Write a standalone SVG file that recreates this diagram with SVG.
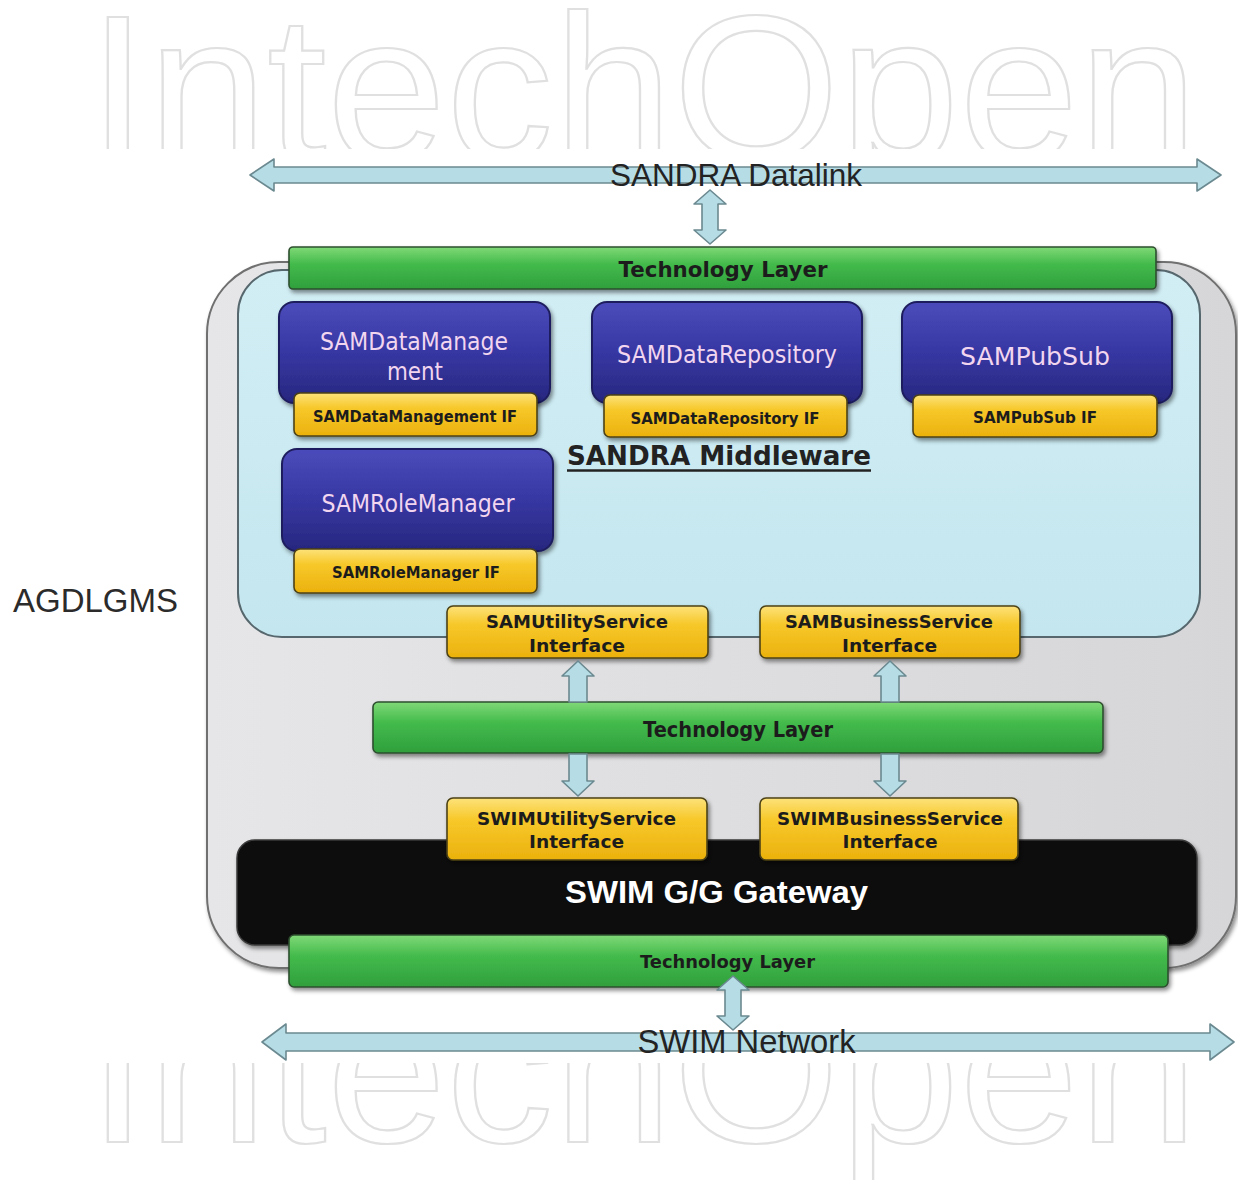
<svg xmlns="http://www.w3.org/2000/svg" width="1238" height="1180" viewBox="0 0 1238 1180">
<defs>
<style>
.wm{font-family:"Liberation Sans",Arial,sans-serif;font-size:207px;fill:none;stroke:#e0e0e0;stroke-width:2.2}
.blk{font-family:"DejaVu Sans","Liberation Sans",sans-serif;font-size:24px;fill:#f2d6ef;text-anchor:middle}
.ifl{font-family:"DejaVu Sans","Liberation Sans",sans-serif;font-weight:bold;font-size:15px;fill:#1c1c1c;text-anchor:middle}
.itf{font-family:"DejaVu Sans","Liberation Sans",sans-serif;font-weight:bold;font-size:18px;fill:#1c1c1c;text-anchor:middle}
.tech{font-family:"DejaVu Sans","Liberation Sans",sans-serif;font-weight:bold;font-size:21px;fill:#1c1c1c;text-anchor:middle}
.big{font-family:"Liberation Sans",Arial,sans-serif;font-size:32px;fill:#232323;text-anchor:middle}
.blue{fill:url(#grBlue);stroke:#1f1f5e;stroke-width:2}
.yel{fill:url(#grYel);stroke:#4d4216;stroke-width:1.6}
.green{fill:url(#grGreen);stroke:#2d4f2f;stroke-width:1.6}
.arr{fill:#b6dde6;stroke:#6b8990;stroke-width:1.6;stroke-linejoin:round}
</style>
<linearGradient id="grBlue" x1="0" y1="0" x2="0" y2="1">
<stop offset="0" stop-color="#4b4bbb"/><stop offset="0.5" stop-color="#3737a3"/><stop offset="1" stop-color="#27277f"/>
</linearGradient>
<linearGradient id="grYel" x1="0" y1="0" x2="0" y2="1">
<stop offset="0" stop-color="#fde27a"/><stop offset="0.35" stop-color="#f7c82a"/><stop offset="1" stop-color="#ebb10d"/>
</linearGradient>
<linearGradient id="grGreen" x1="0" y1="0" x2="0" y2="1">
<stop offset="0" stop-color="#80d977"/><stop offset="0.4" stop-color="#44bb4c"/><stop offset="1" stop-color="#2f9f3c"/>
</linearGradient>
<linearGradient id="grGray" x1="0" y1="0" x2="1" y2="0">
<stop offset="0" stop-color="#e6e6e8"/><stop offset="0.5" stop-color="#dedee0"/><stop offset="1" stop-color="#d6d6d8"/>
</linearGradient>
<linearGradient id="grLB" x1="0" y1="0" x2="0" y2="1">
<stop offset="0" stop-color="#d2eef5"/><stop offset="1" stop-color="#c4e6ef"/>
</linearGradient>
<filter id="sh" x="-5%" y="-10%" width="115%" height="130%">
<feDropShadow dx="2" dy="3" stdDeviation="2" flood-color="#000" flood-opacity="0.45"/>
</filter>
</defs>

<rect x="0" y="0" width="1238" height="1180" fill="#ffffff"/>

<g id="watermark">
<text class="wm" x="88" y="160" textLength="1110" lengthAdjust="spacingAndGlyphs">IntechOpen</text>
<text class="wm" x="88" y="1142" textLength="1110" lengthAdjust="spacingAndGlyphs">IntechOpen</text>
<rect x="0" y="149" width="1238" height="914" fill="#ffffff"/>
</g>

<g id="agdlgms-label">
<text x="13" y="612" font-family="'Liberation Sans',Arial,sans-serif" font-size="33" fill="#2b2b2b">AGDLGMS</text>
</g>

<g id="agdlgms">
<rect x="207" y="262" width="1029" height="706" rx="72" fill="url(#grGray)" stroke="#707070" stroke-width="2" filter="url(#sh)"/>
</g>

<g id="sandra-middleware">
<rect x="238" y="270" width="962" height="367" rx="44" fill="url(#grLB)" stroke="#56676d" stroke-width="2"/>
<text x="719" y="465" font-family="'DejaVu Sans','Liberation Sans',sans-serif" font-weight="bold" font-size="27" fill="#222" text-anchor="middle" textLength="304" lengthAdjust="spacingAndGlyphs">SANDRA Middleware</text>
<line x1="567" y1="470.5" x2="871" y2="470.5" stroke="#222" stroke-width="2.4"/>
</g>

<g id="tech-layer-top">
<rect class="green" x="289" y="247" width="867" height="42" rx="4" filter="url(#sh)"/>
<text class="tech" x="723" y="277" textLength="209" lengthAdjust="spacingAndGlyphs">Technology Layer</text>
</g>

<g id="sam-data-management">
<rect class="blue" x="279" y="302" width="271" height="101" rx="15" filter="url(#sh)"/>
<text class="blk" x="414" y="350" textLength="188" lengthAdjust="spacingAndGlyphs">SAMDataManage</text>
<text class="blk" x="415" y="380" textLength="56" lengthAdjust="spacingAndGlyphs">ment</text>
<rect class="yel" x="294" y="393" width="243" height="43" rx="6" filter="url(#sh)"/>
<text class="ifl" x="415" y="422" textLength="204" lengthAdjust="spacingAndGlyphs">SAMDataManagement IF</text>
</g>

<g id="sam-data-repository">
<rect class="blue" x="592" y="302" width="270" height="101" rx="15" filter="url(#sh)"/>
<text class="blk" x="727" y="363" textLength="220" lengthAdjust="spacingAndGlyphs">SAMDataRepository</text>
<rect class="yel" x="604" y="395" width="243" height="42" rx="6" filter="url(#sh)"/>
<text class="ifl" x="725" y="424" textLength="189" lengthAdjust="spacingAndGlyphs">SAMDataRepository IF</text>
</g>

<g id="sam-pubsub">
<rect class="blue" x="902" y="302" width="270" height="101" rx="15" filter="url(#sh)"/>
<text class="blk" x="1035" y="365" textLength="150" lengthAdjust="spacingAndGlyphs">SAMPubSub</text>
<rect class="yel" x="913" y="395" width="244" height="42" rx="6" filter="url(#sh)"/>
<text class="ifl" x="1035" y="423" textLength="124" lengthAdjust="spacingAndGlyphs">SAMPubSub IF</text>
</g>

<g id="sam-role-manager">
<rect class="blue" x="282" y="449" width="271" height="102" rx="15" filter="url(#sh)"/>
<text class="blk" x="418" y="512" textLength="193" lengthAdjust="spacingAndGlyphs">SAMRoleManager</text>
<rect class="yel" x="294" y="549" width="243" height="44" rx="6" filter="url(#sh)"/>
<text class="ifl" x="416" y="578" textLength="168" lengthAdjust="spacingAndGlyphs">SAMRoleManager IF</text>
</g>

<g id="swim-gateway">
<rect x="237" y="840" width="960" height="105" rx="18" fill="#0e0e0e" stroke="#3a3a3a" stroke-width="1.5" filter="url(#sh)"/>
<text x="716.5" y="903" font-family="'Liberation Sans',Arial,sans-serif" font-weight="bold" font-size="32" fill="#ffffff" text-anchor="middle" textLength="303" lengthAdjust="spacingAndGlyphs">SWIM G/G Gateway</text>
</g>

<g id="sam-utility-service-interface">
<rect class="yel" x="447" y="606" width="261" height="52" rx="6" filter="url(#sh)"/>
<text class="itf" x="577" y="628" textLength="182" lengthAdjust="spacingAndGlyphs">SAMUtilityService</text>
<text class="itf" x="577" y="652" textLength="96" lengthAdjust="spacingAndGlyphs">Interface</text>
</g>

<g id="sam-business-service-interface">
<rect class="yel" x="760" y="606" width="260" height="52" rx="6" filter="url(#sh)"/>
<text class="itf" x="889" y="628" textLength="208" lengthAdjust="spacingAndGlyphs">SAMBusinessService</text>
<text class="itf" x="889.5" y="652" textLength="95" lengthAdjust="spacingAndGlyphs">Interface</text>
</g>

<g id="tech-layer-middle">
<rect class="green" x="373" y="702" width="730" height="51" rx="5" filter="url(#sh)"/>
<text class="tech" x="738" y="737" textLength="190" lengthAdjust="spacingAndGlyphs">Technology Layer</text>
</g>

<g id="swim-utility-service-interface">
<rect class="yel" x="447" y="798" width="260" height="62" rx="6" filter="url(#sh)"/>
<text class="itf" x="576.5" y="825" textLength="199" lengthAdjust="spacingAndGlyphs">SWIMUtilityService</text>
<text class="itf" x="576.5" y="848" textLength="95" lengthAdjust="spacingAndGlyphs">Interface</text>
</g>

<g id="swim-business-service-interface">
<rect class="yel" x="760" y="798" width="258" height="62" rx="6" filter="url(#sh)"/>
<text class="itf" x="890" y="825" textLength="226" lengthAdjust="spacingAndGlyphs">SWIMBusinessService</text>
<text class="itf" x="890" y="848" textLength="95" lengthAdjust="spacingAndGlyphs">Interface</text>
</g>

<g id="tech-layer-bottom">
<rect class="green" x="289" y="935" width="879" height="52" rx="5" filter="url(#sh)"/>
<text class="tech" x="727.5" y="968" font-size="18" textLength="175" lengthAdjust="spacingAndGlyphs" style="font-size:18px">Technology Layer</text>
</g>

<g id="connectors">
<polygon class="arr" points="250,175 274,159 274,167 1197,167 1197,159 1221,175 1197,191 1197,183 274,183 274,191"/>
<polygon class="arr" points="710,190 726,204 718,204 718,230 726,230 710,244 694,230 702,230 702,204 694,204"/>
<polygon class="arr" points="578,661 594,676 587,676 587,702 569,702 569,676 562,676"/>
<polygon class="arr" points="578,796 594,781 587,781 587,754 569,754 569,781 562,781"/>
<polygon class="arr" points="890,661 906,676 899,676 899,702 881,702 881,676 874,676"/>
<polygon class="arr" points="890,796 906,781 899,781 899,754 881,754 881,781 874,781"/>
<polygon class="arr" points="262,1042 286,1024 286,1033 1210,1033 1210,1024 1234,1042 1210,1060 1210,1051 286,1051 286,1060"/>
<polygon class="arr" points="733,976 749,990 741,990 741,1016 749,1016 733,1030 717,1016 725,1016 725,990 717,990"/>
</g>

<g id="sandra-datalink-label">
<text class="big" x="736" y="186" textLength="252" lengthAdjust="spacingAndGlyphs">SANDRA Datalink</text>
</g>
<g id="swim-network-label">
<text class="big" x="746.5" y="1053" font-size="33" style="font-size:33px" textLength="218" lengthAdjust="spacingAndGlyphs">SWIM Network</text>
</g>
</svg>
